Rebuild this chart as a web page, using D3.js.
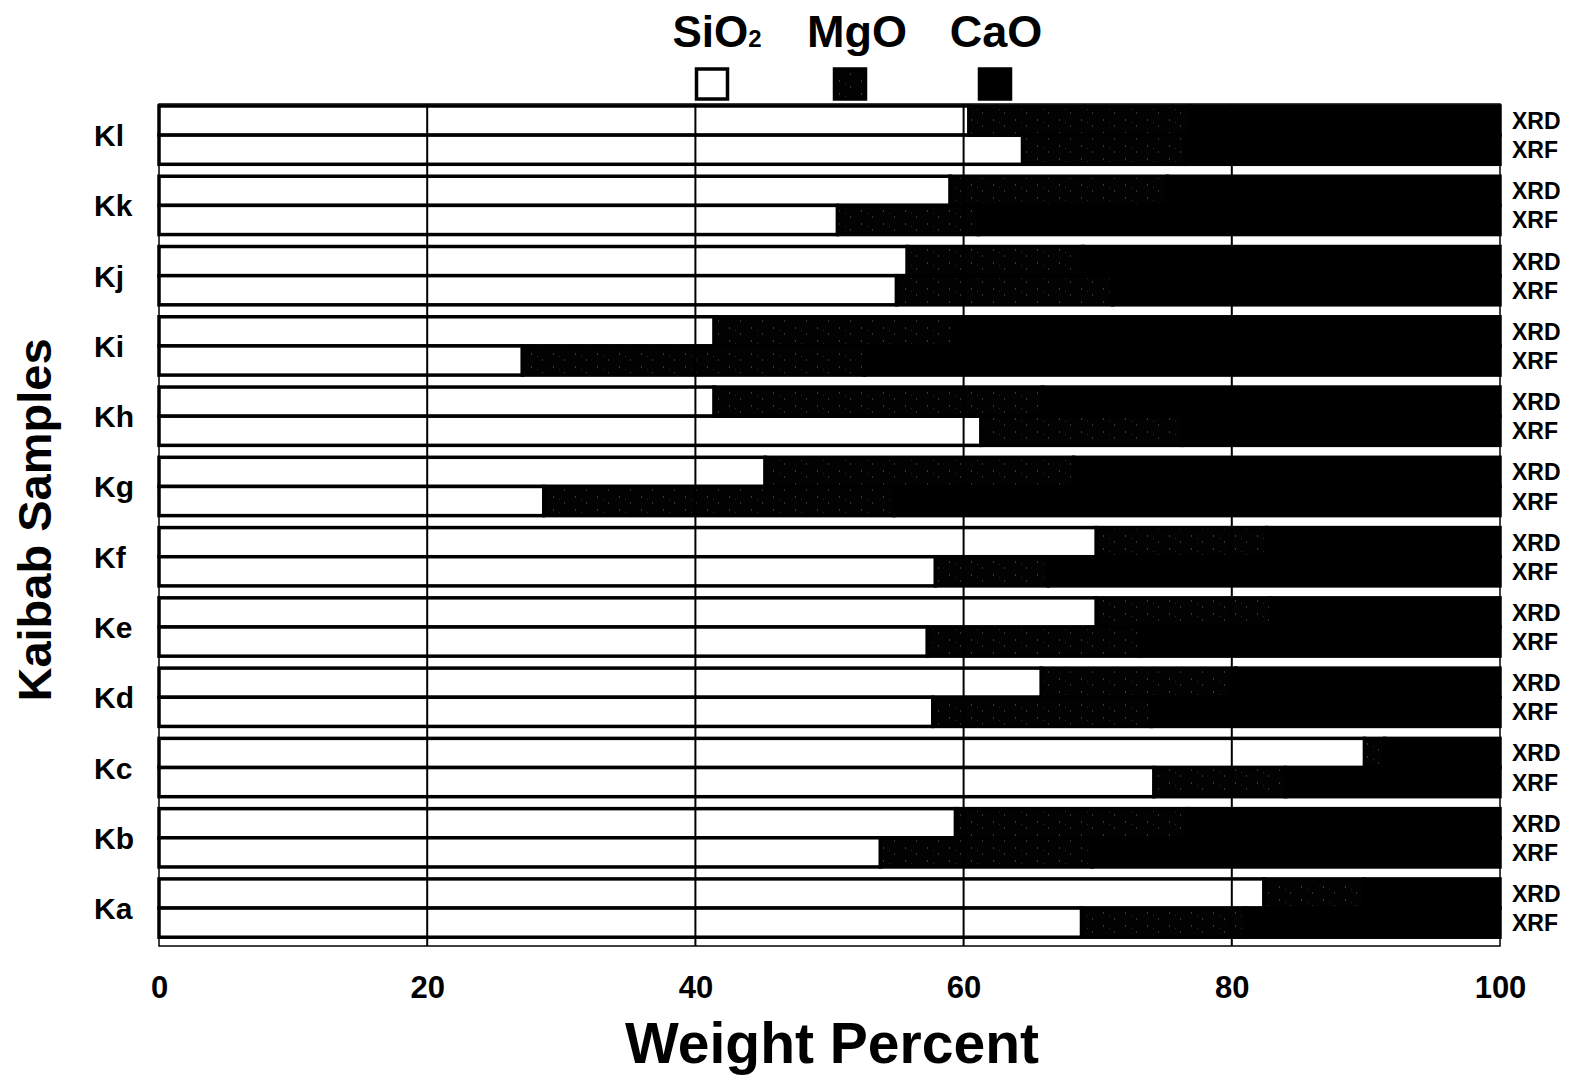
<!DOCTYPE html>
<html><head><meta charset="utf-8">
<script src="https://cdn.jsdelivr.net/npm/d3@7"></script>
<style>
body{margin:0;background:#fff}
text{font-family:"Liberation Sans",Arial,Helvetica,sans-serif;font-weight:bold;fill:#000}
</style></head>
<body><svg id="c" width="1574" height="1080"></svg>
<script>
// ---- data ----
const samples = ["Kl","Kk","Kj","Ki","Kh","Kg","Kf","Ke","Kd","Kc","Kb","Ka"];
const methods = ["XRD","XRF"];
const components = ["SiO2","MgO","CaO"];
const sio2XRD = [60.4,59.0,55.8,41.4,41.4,45.2,69.9,69.9,65.8,89.9,59.4,82.4];
const sio2XRF = [64.4,50.6,55.0,27.1,61.3,28.7,57.9,57.3,57.7,74.2,53.8,68.8];
const mgoXRD  = [16.5,16.2,13.1,17.9,24.5,23.0,12.7,13.0,14.5,1.5,17.3,7.5];
const mgoXRF  = [12.1,10.5,16.1,25.5,15.0,26.1,8.4,15.9,16.3,9.8,15.8,12.2];
const caoXRD  = [23.1,24.8,31.1,40.7,34.1,31.8,17.4,17.1,19.7,8.6,23.3,10.1];
const caoXRF  = [23.5,38.9,28.9,47.4,23.7,45.2,33.7,26.8,26.0,16.0,30.4,19.0];
const xTicks  = [0,20,40,60,80,100];

// ---- build rows ----
const rows = [];
samples.forEach((s,i)=>{
  rows.push({sample:s, method:"XRD", SiO2:sio2XRD[i], MgO:mgoXRD[i], CaO:caoXRD[i]});
  rows.push({sample:s, method:"XRF", SiO2:sio2XRF[i], MgO:mgoXRF[i], CaO:caoXRF[i]});
});

const svg = d3.select("#c");
const defs = svg.append("defs");
const pat = defs.append("pattern").attr("id","mgo").attr("patternUnits","userSpaceOnUse")
  .attr("width",22).attr("height",13);
pat.append("rect").attr("width",22).attr("height",13).attr("fill","#020202");
pat.append("rect").attr("x",3).attr("y",2).attr("width",1).attr("height",2).attr("fill","#3a3a3a");
pat.append("rect").attr("x",14).attr("y",8).attr("width",1).attr("height",2).attr("fill","#333");
pat.append("rect").attr("x",9).attr("y",5).attr("width",1).attr("height",1).attr("fill","#2a2a2a");

const color = {SiO2:"#ffffff", MgO:"url(#mgo)", CaO:"#000000"};

const x = d3.scaleLinear().domain([0,100]).range([159,1500]);
const y = d3.scaleBand().domain(samples).range([100,943.2]).paddingInner(0.17).paddingOuter(0.085);
const yIn = d3.scaleBand().domain(methods).range([0,y.bandwidth()]);

// plot frame
svg.append("rect").attr("x",x(0)).attr("y",104).attr("width",x(100)-x(0)).attr("height",842)
  .attr("fill","none").attr("stroke","#000").attr("stroke-width",1.5);

// bars
const stack = d3.stack().keys(components)(rows);
const g = svg.append("g");
stack.forEach(layer=>{
  g.selectAll(null).data(layer).join("rect")
    .attr("x",d=>x(d[0]))
    .attr("width",d=>Math.max(0,x(d[1])-x(d[0])))
    .attr("y",d=>y(d.data.sample)+yIn(d.data.method))
    .attr("height",yIn.bandwidth())
    .attr("fill",color[layer.key])
    .attr("stroke","#000").attr("stroke-width",3.5);
});

// gridlines
svg.append("g").selectAll("line").data([20,40,60,80]).join("line")
  .attr("x1",d=>x(d)).attr("x2",d=>x(d)).attr("y1",104).attr("y2",946)
  .attr("stroke","#000").attr("stroke-width",2);

// sample labels
svg.append("g").selectAll("text").data(samples).join("text")
  .attr("x",94).attr("y",d=>y(d)+y.bandwidth()/2+11)
  .attr("font-size",30).text(d=>d);

// method labels
const ml = [];
samples.forEach(s=>methods.forEach(m=>ml.push({s,m})));
svg.append("g").selectAll("text").data(ml).join("text")
  .attr("x",1512).attr("y",d=>y(d.s)+yIn(d.m)+yIn.bandwidth()/2+8.5)
  .attr("font-size",23).text(d=>d.m);

// x axis
const ax = svg.append("g").attr("transform","translate(0,946)")
  .call(d3.axisBottom(x).tickValues(xTicks).tickSize(0).tickPadding(30).tickFormat(d3.format("d")));
ax.select(".domain").remove();
ax.selectAll("text").attr("font-size",31).attr("font-family",null).style("font-family",'"Liberation Sans",Arial,sans-serif').style("font-weight","bold");

// axis titles
svg.append("text").attr("x",832).attr("y",1063).attr("text-anchor","middle")
  .attr("font-size",57).text("Weight Percent");
svg.append("text").attr("transform","translate(51,520) rotate(-90)").attr("text-anchor","middle")
  .attr("font-size",47).text("Kaibab Samples");

// legend
const legX = {SiO2:712, MgO:850, CaO:995};
const lt = svg.append("text").attr("x",717).attr("y",47).attr("text-anchor","middle").attr("font-size",44);
lt.append("tspan").text("SiO");
lt.append("tspan").attr("font-size",24).text("2");
svg.append("text").attr("x",857).attr("y",47).attr("text-anchor","middle").attr("font-size",45).text("MgO");
svg.append("text").attr("x",996).attr("y",47).attr("text-anchor","middle").attr("font-size",45).text("CaO");
svg.append("g").selectAll("rect").data(components).join("rect")
  .attr("x",d=>legX[d]-15.5).attr("y",69).attr("width",31).attr("height",30)
  .attr("fill",d=>color[d]).attr("stroke","#000").attr("stroke-width",3.5);
</script></body></html>
